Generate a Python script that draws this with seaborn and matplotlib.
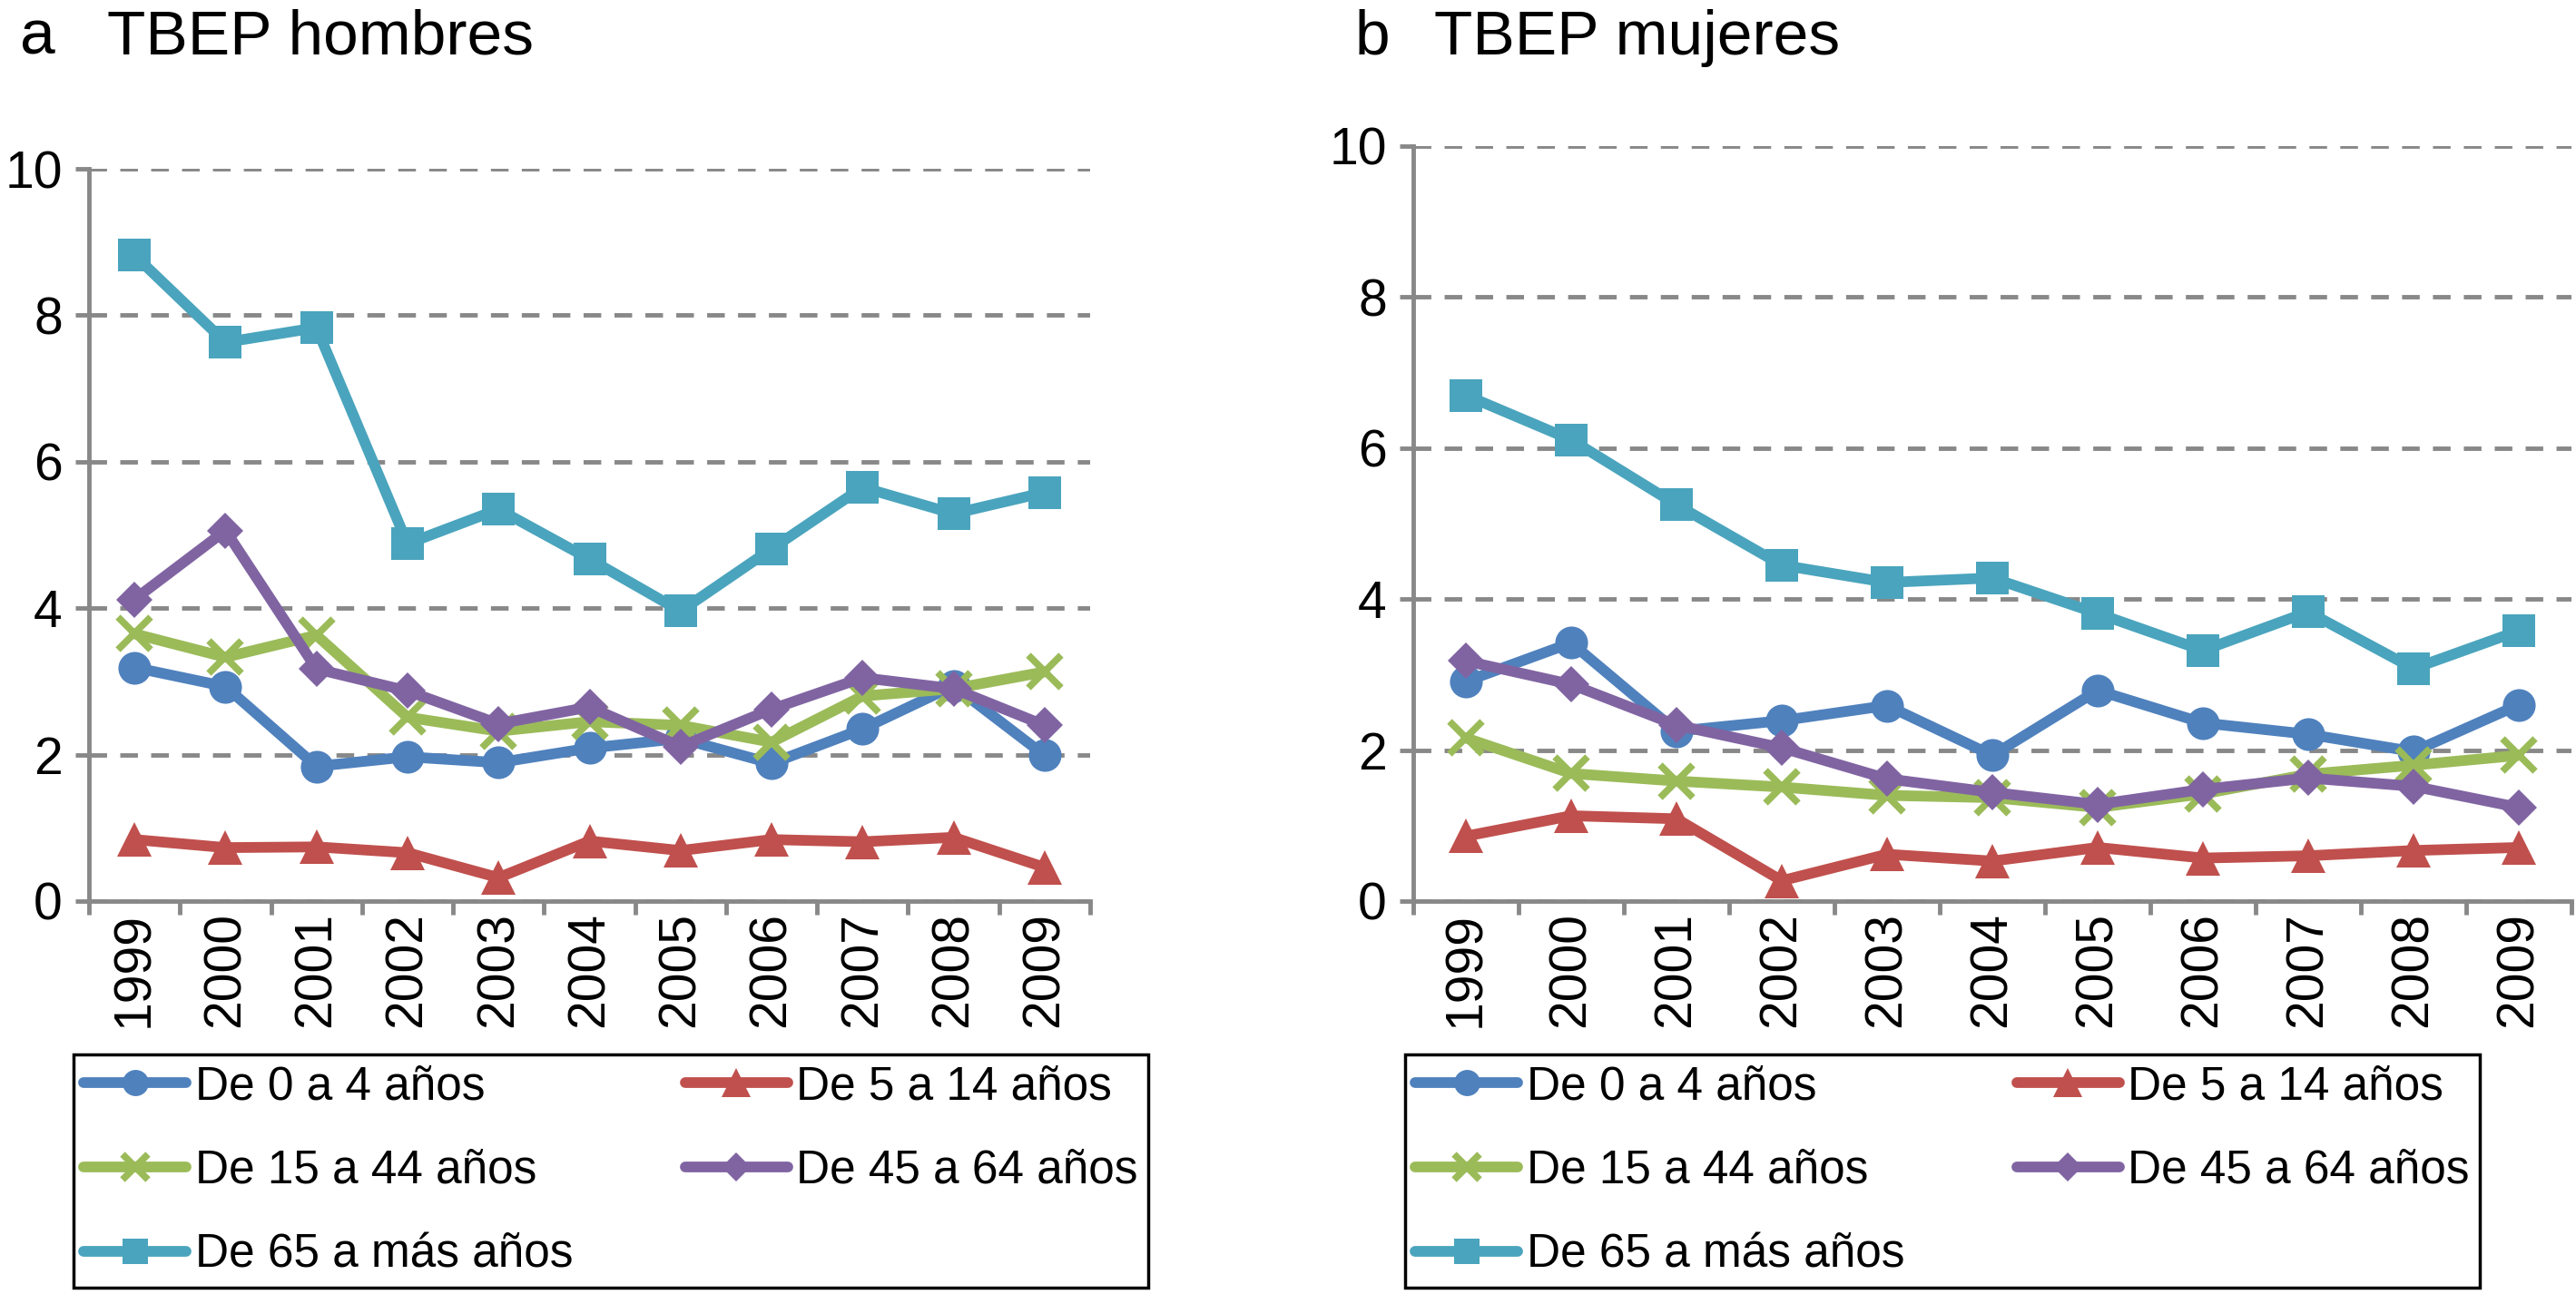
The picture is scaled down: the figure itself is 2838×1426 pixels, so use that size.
import numpy as np
import pandas as pd
import matplotlib
matplotlib.use("Agg")
import matplotlib.pyplot as plt
import seaborn as sns

# ---------------- data ----------------
years = [1999, 2000, 2001, 2002, 2003, 2004, 2005, 2006, 2007, 2008, 2009]
groups = ["De 0 a 4 años", "De 5 a 14 años", "De 15 a 44 años",
          "De 45 a 64 años", "De 65 a más años"]

h_0_4 = [3.19, 2.93, 1.84, 1.97, 1.89, 2.09, 2.22, 1.88, 2.35, 2.94, 1.99]
h_5_14 = [0.84, 0.73, 0.74, 0.66, 0.32, 0.82, 0.69, 0.84, 0.81, 0.87, 0.46]
h_15_44 = [3.65, 3.33, 3.63, 2.51, 2.32, 2.45, 2.40, 2.17, 2.80, 2.90, 3.13]
h_45_64 = [4.12, 5.06, 3.17, 2.87, 2.42, 2.65, 2.11, 2.62, 3.05, 2.90, 2.40]
h_65 = [8.82, 7.63, 7.83, 4.88, 5.35, 4.67, 3.96, 4.81, 5.65, 5.29, 5.58]

m_0_4 = [2.91, 3.42, 2.25, 2.39, 2.59, 1.93, 2.79, 2.36, 2.21, 1.98, 2.60]
m_5_14 = [0.86, 1.13, 1.09, 0.27, 0.62, 0.53, 0.71, 0.57, 0.60, 0.67, 0.71]
m_15_44 = [2.16, 1.69, 1.59, 1.51, 1.40, 1.37, 1.24, 1.42, 1.68, 1.80, 1.93]
m_45_64 = [3.18, 2.87, 2.33, 2.03, 1.62, 1.44, 1.28, 1.48, 1.63, 1.52, 1.24]
m_65 = [6.70, 6.11, 5.25, 4.45, 4.22, 4.28, 3.81, 3.32, 3.83, 3.08, 3.58]

y_ticks = [0, 2, 4, 6, 8, 10]
panel_letters = ["a", "b"]
panel_titles = ["TBEP hombres", "TBEP mujeres"]

colors = ["#4F81BD", "#C0504D", "#9BBB59", "#8064A2", "#4AA4BD"]
markers = ["o", "^", "x", "D", "s"]
msizes = [26, 28, 26, 20, 26]

# ---------------- style ----------------
sns.set_theme(style="white")
plt.rcParams["font.family"] = ["Liberation Sans", "DejaVu Sans"]
plt.rcParams["text.color"] = "black"
plt.rcParams["xtick.color"] = "black"
plt.rcParams["ytick.color"] = "black"

W, H = 2838, 1426
fig = plt.figure(figsize=(W / 100, H / 100), dpi=100)

ax_pos = [
    [98 / W, 1 - 993 / H, (1201 - 98) / W, (993 - 186) / H],
    [1557 / W, 1 - 993 / H, (2833 - 1557) / W, (993 - 161) / H],
]
legend_boxes = [
    (81 / W, 11 / H, 1184 / W, (1415 - 1162) / H),
    (1548 / W, 11 / H, 1184 / W, (1415 - 1162) / H),
]
title_letter_x = [22 / W, 1493 / W]
title_text_x = [118 / W, 1580 / W]

gray = "#888888"
panels = [
    [h_0_4, h_5_14, h_15_44, h_45_64, h_65],
    [m_0_4, m_5_14, m_15_44, m_45_64, m_65],
]

for p, series in enumerate(panels):
    ax = fig.add_axes(ax_pos[p])
    for g, vals, c, mk, ms in zip(groups, series, colors, markers, msizes):
        df = pd.DataFrame({"year": years, "value": vals})
        kw = dict(marker=mk, markersize=ms, color=c, linewidth=8.5,
                  label=g, clip_on=False)
        if mk == "x":
            kw.update(markeredgewidth=5.5, markeredgecolor=c)
        else:
            kw.update(markeredgewidth=0)
        sns.lineplot(data=df, x="year", y="value", ax=ax, **kw)
    ax.set_xlim(years[0] - 0.5, years[-1] + 0.5)
    ax.set_ylim(0, 10)
    ax.set_xlabel("")
    ax.set_ylabel("")
    ax.set_yticks(y_ticks)
    ax.set_yticklabels([str(t) for t in y_ticks], fontsize=41)
    ax.set_xticks(years)
    ax.set_xticklabels([str(y) for y in years], rotation=90, fontsize=41)
    ax.set_xticks(np.arange(years[0] - 0.5, years[-1] + 1.0, 1.0), minor=True)
    ax.tick_params(axis="x", which="major", length=0, pad=9)
    ax.tick_params(axis="x", which="minor", length=11, width=3.5, color=gray,
                   direction="out", bottom=True)
    ax.tick_params(axis="y", which="major", length=11, width=3.5, color=gray,
                   direction="out", pad=10, left=True)
    for s in ["top", "right"]:
        ax.spines[s].set_visible(False)
    for s in ["left", "bottom"]:
        ax.spines[s].set_color(gray)
        ax.spines[s].set_linewidth(3.5)
    ax.yaxis.grid(True, color=gray, linestyle=(0, (4.0, 3.0)), linewidth=3.5)
    ax.xaxis.grid(False)
    ax.set_axisbelow(True)
    leg = ax.get_legend()
    if leg is not None:
        leg.remove()

    handles, labels = ax.get_legend_handles_labels()
    order = [0, 2, 4, 1, 3]
    lg = fig.legend([handles[i] for i in order], [labels[i] for i in order],
                    ncol=2, loc="upper left", bbox_to_anchor=legend_boxes[p],
                    mode="expand", fontsize=37, frameon=True, fancybox=False,
                    borderpad=0.22, labelspacing=0.85, handlelength=2.2,
                    handletextpad=0.18, borderaxespad=0, markerscale=0.8,
                    columnspacing=1.0)
    fr = lg.get_frame()
    fr.set_edgecolor("black")
    fr.set_linewidth(2.5)
    fr.set_alpha(1)

    fig.text(title_letter_x[p], 1 - 60 / H, panel_letters[p], fontsize=50,
             va="baseline", ha="left")
    fig.text(title_text_x[p], 1 - 60 / H, panel_titles[p], fontsize=50,
             va="baseline", ha="left")

fig.savefig("out.png", dpi=100, facecolor="white")
